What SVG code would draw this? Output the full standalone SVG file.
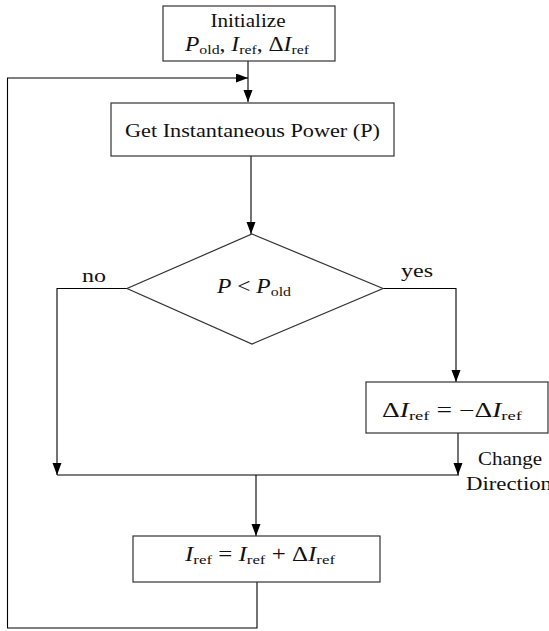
<svg xmlns="http://www.w3.org/2000/svg" width="549" height="631" viewBox="0 0 549 631">
<style>
.box{fill:#fff;stroke:#333;stroke-width:1.2}
.ln{fill:none;stroke:#000;stroke-width:1.1}
text{font-family:"Liberation Serif","DejaVu Serif",serif;font-size:18px;fill:#111}
.m{text-anchor:middle}
.math{font-size:20px}
.it{font-style:italic}
.sub{font-size:13.5px;font-style:normal}
</style>
<defs>
<marker id="ah" markerUnits="userSpaceOnUse" markerWidth="12" markerHeight="10" refX="12" refY="4.5" orient="auto">
<path d="M0,0 L12,4.5 L0,9 z" fill="#000"/>
</marker>
</defs>
<g id="connectors">
<path class="ln" d="M248,61 V102" marker-end="url(#ah)"/>
<path class="ln" d="M257,582 V628 H7.5 V78 H248" marker-end="url(#ah)"/>
<path class="ln" d="M251,156 V234" marker-end="url(#ah)"/>
<path class="ln" d="M127,288.5 H57 V475" marker-end="url(#ah)"/>
<path class="ln" d="M383,288.5 H456 V382" marker-end="url(#ah)"/>
<path class="ln" d="M458,433 V475" marker-end="url(#ah)"/>
<path class="ln" d="M57,475 H459"/>
<path class="ln" d="M256,475 V536" marker-end="url(#ah)"/>
</g>
<g id="init">
<rect class="box" x="163" y="6" width="172" height="55"/>
<text class="m" x="248" y="27" textLength="75" lengthAdjust="spacingAndGlyphs">Initialize</text>
<text class="m math" x="247" y="51" textLength="124" lengthAdjust="spacingAndGlyphs"><tspan class="it">P</tspan><tspan class="sub" dy="3">old</tspan><tspan dy="-3">, </tspan><tspan class="it">I</tspan><tspan class="sub" dy="3">ref</tspan><tspan dy="-3">, Δ</tspan><tspan class="it">I</tspan><tspan class="sub" dy="3">ref</tspan></text>
</g>
<g id="getpower">
<rect class="box" x="111" y="103" width="283" height="53"/>
<text class="m" x="252.5" y="137" textLength="255" lengthAdjust="spacingAndGlyphs">Get Instantaneous Power (P)</text>
</g>
<g id="decision">
<polygon class="box" points="252,234 383,288.5 252,344 127,288.5"/>
<text class="m math" x="254" y="293" textLength="74" lengthAdjust="spacingAndGlyphs"><tspan class="it">P</tspan> &lt; <tspan class="it">P</tspan><tspan class="sub" dy="3">old</tspan></text>
<text class="m" x="94" y="282" textLength="24" lengthAdjust="spacingAndGlyphs">no</text>
<text class="m" x="417" y="277" textLength="32" lengthAdjust="spacingAndGlyphs">yes</text>
</g>
<g id="change">
<rect class="box" x="366" y="382" width="182" height="51"/>
<text class="m math" x="452" y="417" textLength="140" lengthAdjust="spacingAndGlyphs">Δ<tspan class="it">I</tspan><tspan class="sub" dy="3">ref</tspan><tspan dy="-3"> = −Δ</tspan><tspan class="it">I</tspan><tspan class="sub" dy="3">ref</tspan></text>
<text class="m" x="510" y="465" textLength="64" lengthAdjust="spacingAndGlyphs">Change</text>
<text class="m" x="509" y="490" textLength="86" lengthAdjust="spacingAndGlyphs">Direction</text>
</g>
<g id="update">
<rect class="box" x="133" y="536" width="247" height="46"/>
<text class="m math" x="260" y="561" textLength="150" lengthAdjust="spacingAndGlyphs"><tspan class="it">I</tspan><tspan class="sub" dy="3">ref</tspan><tspan dy="-3"> = </tspan><tspan class="it">I</tspan><tspan class="sub" dy="3">ref</tspan><tspan dy="-3"> + Δ</tspan><tspan class="it">I</tspan><tspan class="sub" dy="3">ref</tspan></text>
</g>
</svg>
